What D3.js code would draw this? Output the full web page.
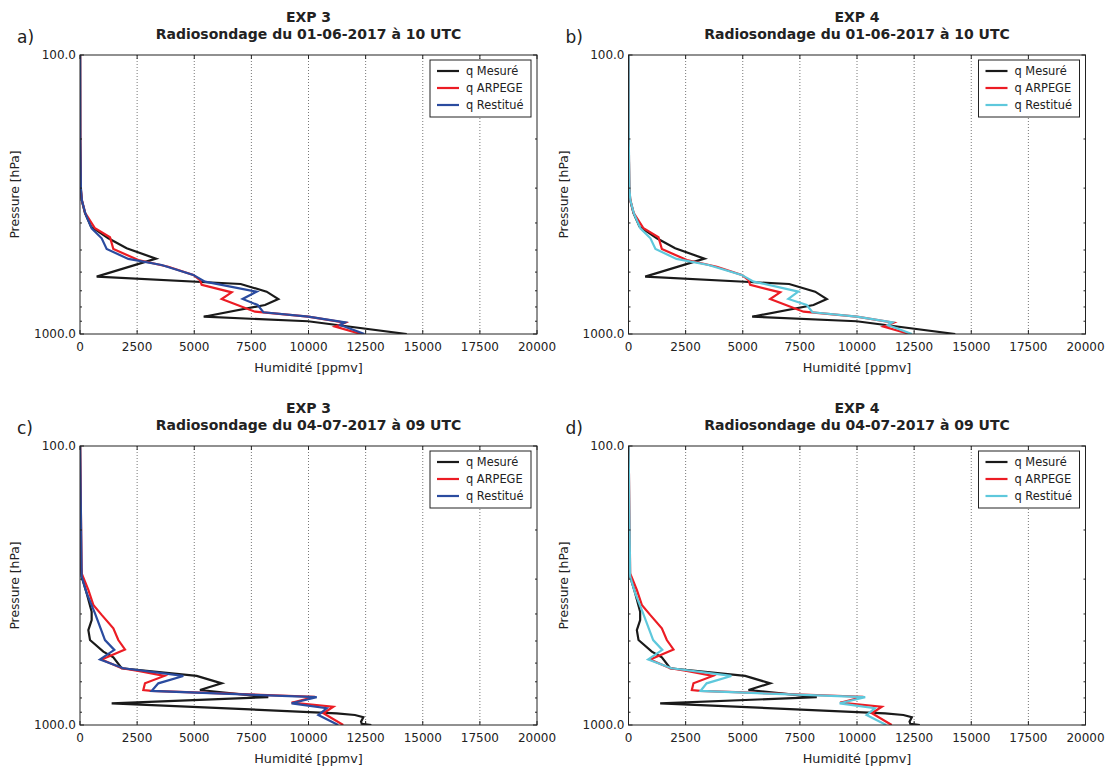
<!DOCTYPE html>
<html><head><meta charset="utf-8">
<script src="https://cdn.jsdelivr.net/npm/d3@7"></script>
<style>body{margin:0;background:#fff}svg{display:block}text{font-family:"DejaVu Sans",sans-serif}</style>
</head><body>
<svg id="c" width="1109" height="766"></svg>
<script>
// ---- data: [pressure hPa, humidity ppmv] ----
const mesure1 = [[100,5],[200,10],[300,30],[331,73],[369,219],[412,481],[454,1240],[493,2042],[537,3326],[623,730],[662,7031],[705,8168],[749,8679],[787,8096],[867,5413],[900,9980],[1000,14300]];
const arpege1 = [[100,5],[200,12],[300,35],[331,80],[369,230],[418,656],[450,1313],[496,1459],[543,2553],[574,3866],[614,4960],[641,5251],[667,5325],[709,6637],[749,6200],[832,7658],[867,9990],[911,11600],[941,11160],[1000,12300]];
const restitue3a = [[100,5],[200,12],[300,40],[331,80],[369,230],[418,510],[454,948],[496,1167],[538,2115],[566,3574],[614,4960],[649,5470],[705,7731],[749,7118],[787,7775],[836,8023],[867,9990],[908,11600],[928,11380],[962,11890],[1000,12450]];
const restitue4a = [[100,5],[200,12],[300,40],[331,80],[369,230],[418,520],[454,960],[496,1180],[538,2100],[566,3500],[614,4950],[649,5480],[705,7431],[749,6995],[787,7800],[836,8050],[867,9990],[908,11550],[928,11350],[962,11850],[1000,12400]];
const mesure2 = [[100,5],[256,10],[294,73],[337,292],[393,510],[421,510],[457,365],[496,438],[546,1021],[572,1459],[626,1823],[667,5105],[709,6200],[749,5250],[795,8240],[836,1386],[908,11230],[921,12030],[938,12400],[973,12300],[990,12330],[1000,12750]];
const arpege2 = [[100,5],[286,73],[328,365],[371,583],[403,948],[450,1459],[496,1677],[536,1969],[582,948],[626,1823],[640,2551],[667,3690],[709,2844],[749,2771],[755,3136],[792,10280],[832,9260],[860,11085],[908,10650],[1000,11520]];
const restitue3c = [[100,5],[294,73],[337,292],[398,656],[496,1094],[538,1502],[582,875],[626,1896],[667,4521],[709,3427],[755,3136],[795,10360],[836,9260],[871,10795],[921,10430],[1000,11300]];
const restitue4c = [[100,5],[294,73],[337,292],[398,640],[496,1080],[538,1480],[582,860],[626,1880],[667,4500],[709,3420],[755,3150],[795,10360],[836,9240],[871,10780],[921,10420],[1000,11280]];

const xTicks = [0,2500,5000,7500,10000,12500,15000,17500,20000];
const yLabels = [100,1000];
const yMinor = [200,300,400,500,600,700,800,900];
const legendNames = ["q Mesuré","q ARPEGE","q Restitué"];
const expTitles = ["EXP 3","EXP 4"];
const dateTitles = ["Radiosondage du 01-06-2017 à 10 UTC","Radiosondage du 04-07-2017 à 09 UTC"];
const panelLetters = ["a)","b)","c)","d)"];

const colBlack = "#1a1a1a", colRed = "#ec1c24", colBlue = "#2a4b9f", colCyan = "#5ec8dc";

const panels = [
  {x0:80, y0:55, exp:0, date:0, letter:0, series:[mesure1, arpege1, restitue3a], rc:colBlue},
  {x0:628.5, y0:55, exp:1, date:0, letter:1, series:[mesure1, arpege1, restitue4a], rc:colCyan},
  {x0:80, y0:446, exp:0, date:1, letter:2, series:[mesure2, arpege2, restitue3c], rc:colBlue},
  {x0:628.5, y0:446, exp:1, date:1, letter:3, series:[mesure2, arpege2, restitue4c], rc:colCyan}
];
const W = 457, H = 279;
const svg = d3.select("#c");

panels.forEach((P, i) => {
  const g = svg.append("g");
  const x = d3.scaleLinear().domain([0,20000]).range([P.x0, P.x0+W]);
  const y = d3.scaleLog().domain([100,1000]).range([P.y0, P.y0+H]);
  const cx = P.x0 + W/2;

  // grid
  g.selectAll(".grid").data(xTicks.slice(1,-1)).enter().append("line")
    .attr("x1", d=>x(d)).attr("x2", d=>x(d)).attr("y1", P.y0).attr("y2", P.y0+H)
    .attr("stroke", "#555").attr("stroke-width", 0.8).attr("stroke-dasharray", "1,2");

  // clip
  const cid = "clip"+i;
  g.append("clipPath").attr("id", cid).append("rect")
    .attr("x", P.x0).attr("y", P.y0).attr("width", W).attr("height", H);

  const line = d3.line().x(d=>x(d[1])).y(d=>y(d[0]));
  const cols = [colBlack, colRed, P.rc];
  P.series.forEach((s, k) => {
    g.append("path").attr("d", line(s)).attr("fill","none")
      .attr("stroke", cols[k]).attr("stroke-width", 2.2).attr("stroke-linejoin","miter")
      .attr("clip-path", `url(#${cid})`);
  });

  // frame
  g.append("rect").attr("x", P.x0).attr("y", P.y0).attr("width", W).attr("height", H)
    .attr("fill","none").attr("stroke","#222").attr("stroke-width",1);

  // x ticks (inward, top & bottom)
  xTicks.forEach(t => {
    g.append("line").attr("x1",x(t)).attr("x2",x(t)).attr("y1",P.y0+H).attr("y2",P.y0+H-4).attr("stroke","#222");
    g.append("line").attr("x1",x(t)).attr("x2",x(t)).attr("y1",P.y0).attr("y2",P.y0+4).attr("stroke","#222");
    g.append("text").attr("x", x(t)).attr("y", P.y0+H+17).attr("text-anchor","middle")
      .attr("font-size", 12).attr("fill","#222").text(t);
  });
  // y ticks
  yLabels.forEach(t => {
    g.append("line").attr("x1",P.x0).attr("x2",P.x0+4).attr("y1",y(t)).attr("y2",y(t)).attr("stroke","#222");
    g.append("line").attr("x1",P.x0+W).attr("x2",P.x0+W-4).attr("y1",y(t)).attr("y2",y(t)).attr("stroke","#222");
    g.append("text").attr("x", P.x0-4).attr("y", y(t)+4.3).attr("text-anchor","end")
      .attr("font-size", 12).attr("fill","#222").text(t.toFixed(1));
  });
  yMinor.forEach(t => {
    g.append("line").attr("x1",P.x0).attr("x2",P.x0+2).attr("y1",y(t)).attr("y2",y(t)).attr("stroke","#222");
    g.append("line").attr("x1",P.x0+W).attr("x2",P.x0+W-2).attr("y1",y(t)).attr("y2",y(t)).attr("stroke","#222");
  });

  // axis labels
  g.append("text").attr("x", cx).attr("y", P.y0+H+38).attr("text-anchor","middle")
    .attr("font-size",12.8).attr("fill","#222").text("Humidité [ppmv]");
  g.append("text").attr("transform", `translate(${P.x0-61},${P.y0+H/2}) rotate(-90)`)
    .attr("text-anchor","middle").attr("font-size",12.3).attr("fill","#222").text("Pressure [hPa]");

  // titles
  g.append("text").attr("x", cx).attr("y", P.y0-33).attr("text-anchor","middle")
    .attr("font-size",14).attr("font-weight","bold").attr("fill","#222").text(expTitles[P.exp]);
  g.append("text").attr("x", cx).attr("y", P.y0-16).attr("text-anchor","middle")
    .attr("font-size",14).attr("font-weight","bold").attr("fill","#222").text(dateTitles[P.date]);
  g.append("text").attr("x", P.x0-63).attr("y", P.y0-12).attr("font-size",17).attr("fill","#222")
    .text(panelLetters[P.letter]);

  // legend
  const lx = P.x0+350, ly = P.y0+5;
  g.append("rect").attr("x", lx).attr("y", ly).attr("width", 101).attr("height", 57)
    .attr("fill","#fff").attr("stroke","#222").attr("stroke-width",1);
  legendNames.forEach((n, k) => {
    const yy = ly + 11 + k*17;
    g.append("line").attr("x1", lx+7).attr("x2", lx+29).attr("y1", yy).attr("y2", yy)
      .attr("stroke", cols[k]).attr("stroke-width", 2.2);
    g.append("text").attr("x", lx+36).attr("y", yy+4).attr("font-size", 11.4).attr("fill","#222").text(n);
  });
});
</script>
</body></html>
